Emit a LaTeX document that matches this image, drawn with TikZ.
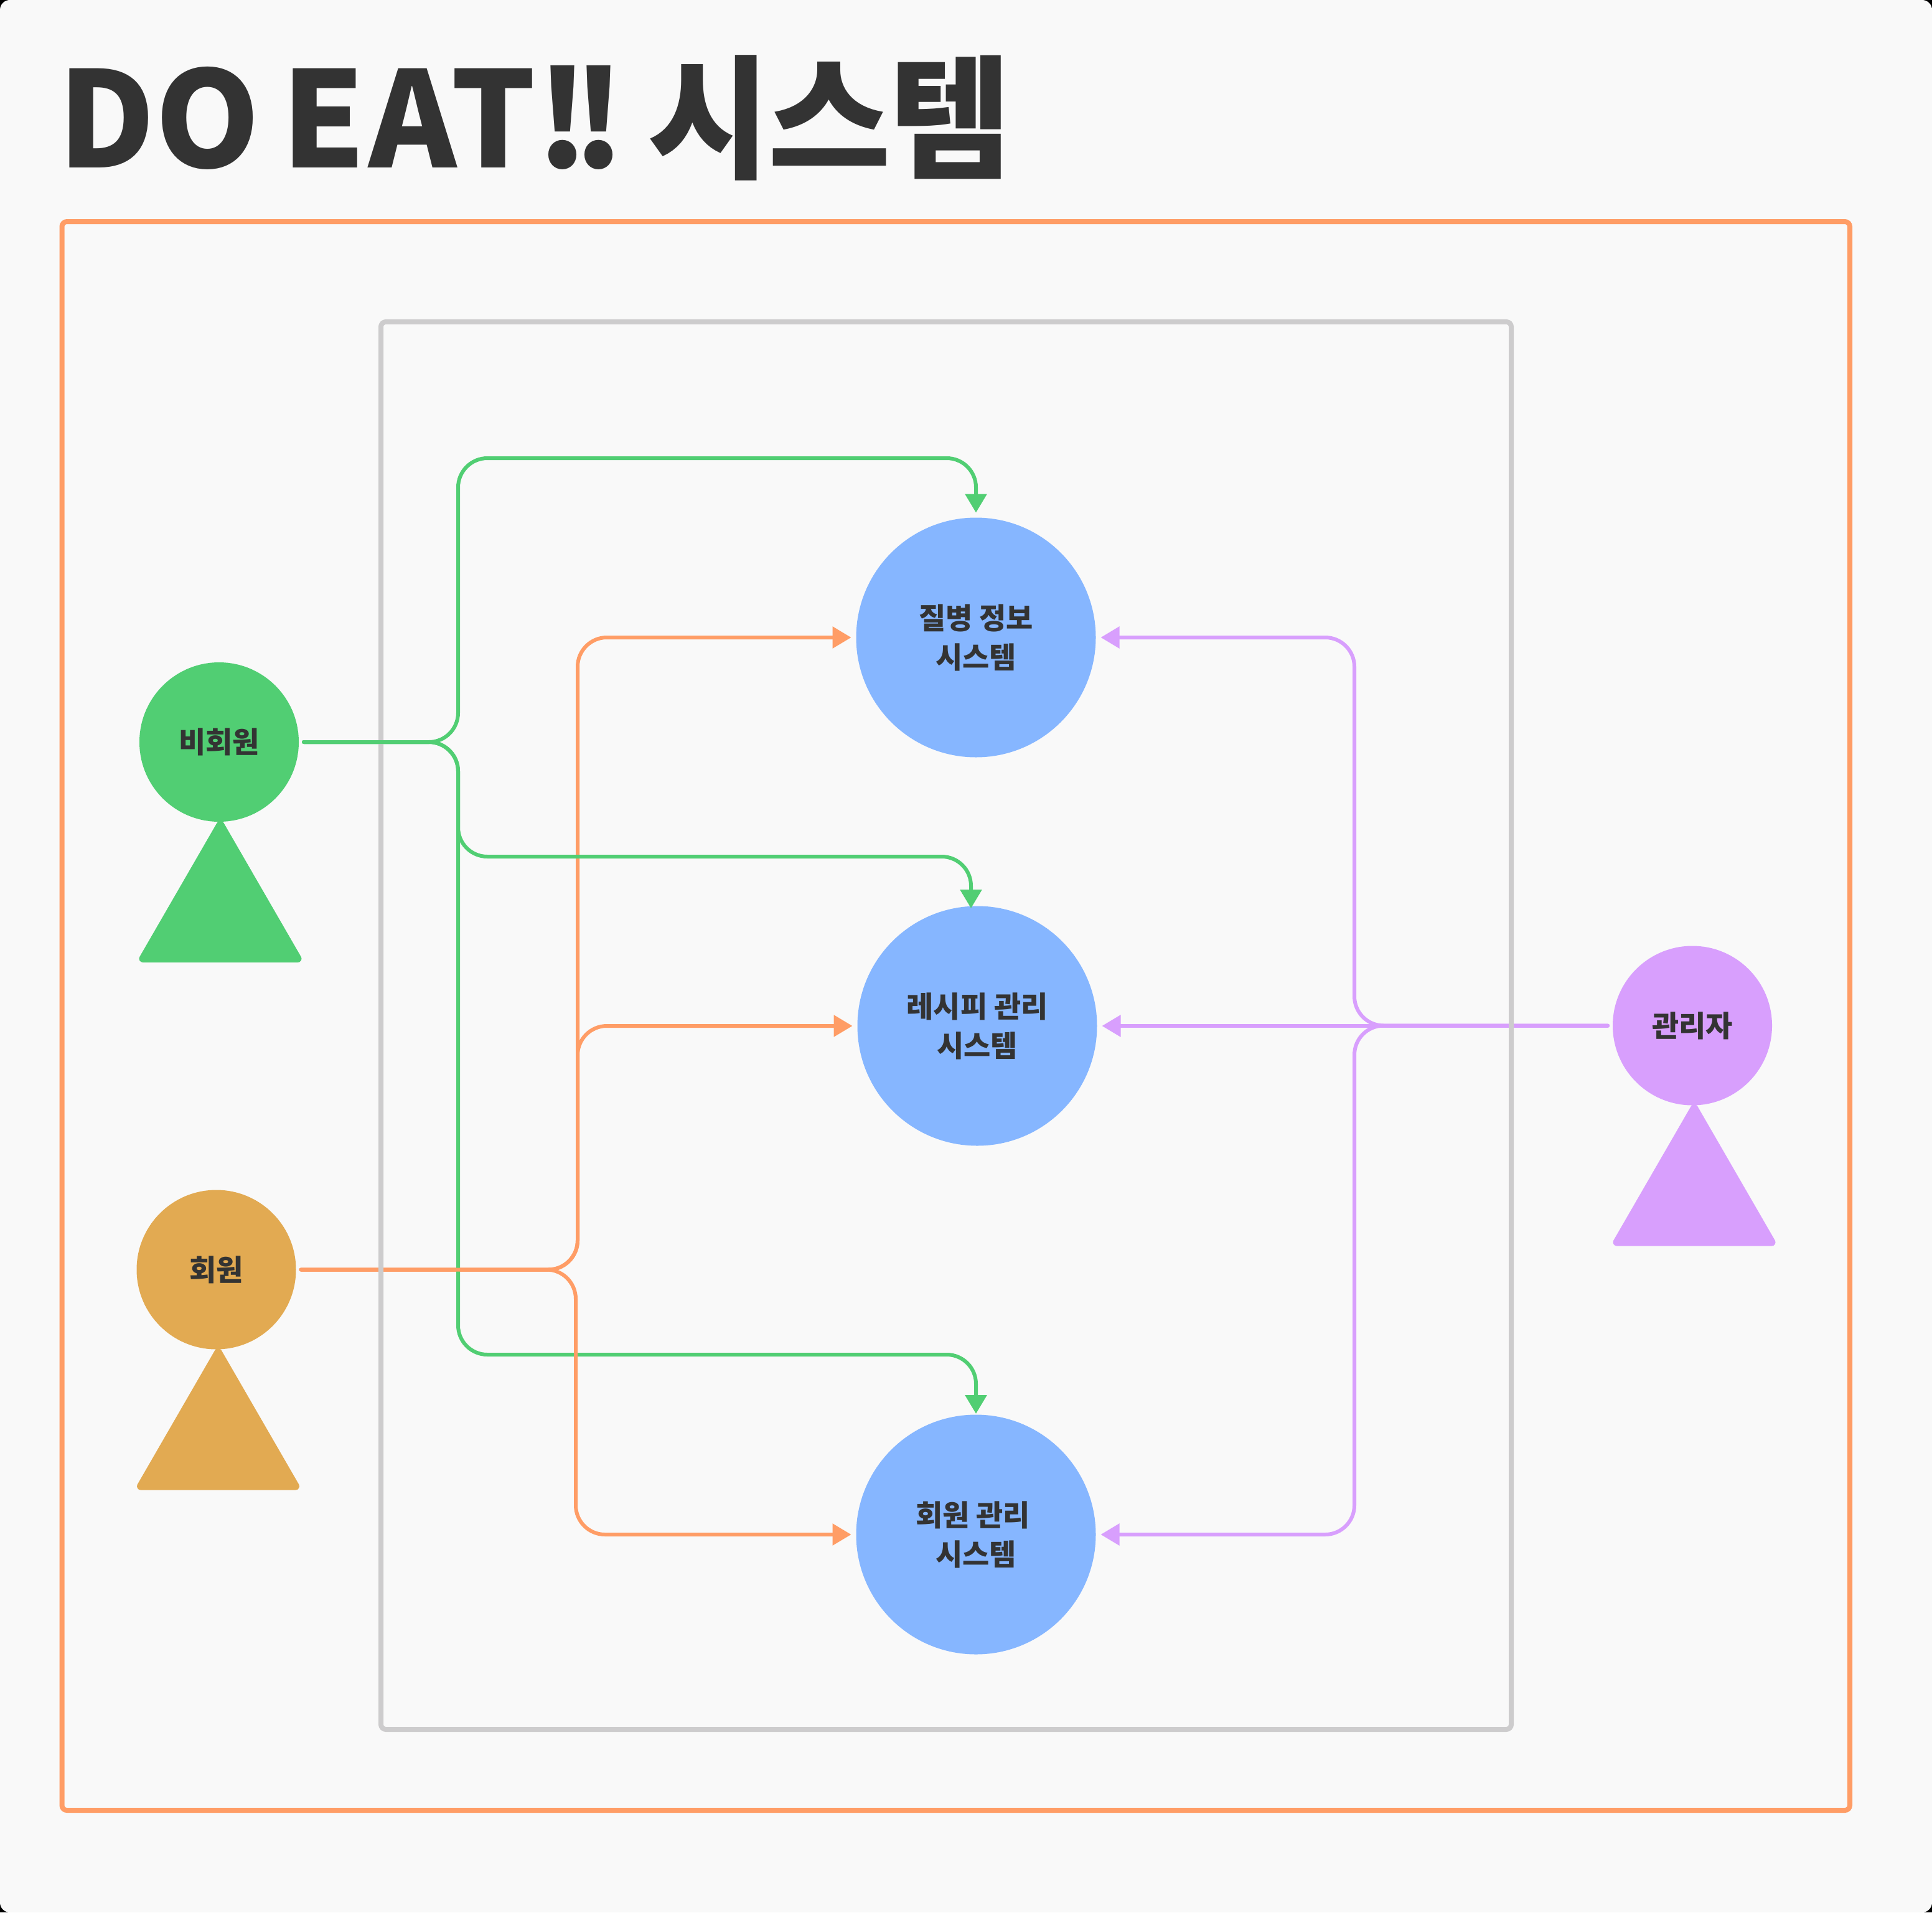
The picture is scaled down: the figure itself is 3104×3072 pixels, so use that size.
\documentclass[tikz,border=0pt]{standalone}
\usepackage{fontspec}
\newfontfamily\krfont{Noto Sans CJK KR}
\usetikzlibrary{arrows.meta, positioning}
\definecolor{pagebg}{HTML}{F9F9F9}
\definecolor{inktext}{HTML}{333333}
\definecolor{linegreen}{HTML}{51CE73}
\definecolor{lineorange}{HTML}{FF9D66}
\definecolor{linepurple}{HTML}{D89FFD}
\definecolor{sysblue}{HTML}{86B6FF}
\definecolor{actorgold}{HTML}{E2AA52}
\definecolor{framegray}{HTML}{CDCCCD}

\begin{document}
\begin{tikzpicture}[
                        x=1pt, y=-1pt,
                        every node/.style={text=inktext, align=center, font=\krfont\bfseries\fontsize{47}{63}\selectfont},
                        head/.style={circle, minimum size=256pt, inner sep=0pt, outer sep=8pt, fill=#1},
                        system/.style={circle, minimum size=385pt, inner sep=0pt, outer sep=8pt, fill=sysblue},
                        torso/.style={fill=#1, draw=#1, line width=12pt, line join=round},
                        frame/.style={draw=#1, line width=8pt, rounded corners=8pt},
                        link/.style={draw=#1, line width=6pt, line cap=round, rounded corners=47pt, -{Triangle[length=30pt,width=34pt]}}
                        ]
                        \useasboundingbox (0,0) rectangle (3104,3072);
                        \fill[black] (0,0) rectangle (3104,3072);
                        \fill[pagebg, rounded corners=16pt] (0,0) rectangle (3104,3072);

                        \node[anchor=base west, font=\krfont\bfseries\fontsize{214}{214}\selectfont] (title) at (90,269)
                          {DO\kern-14pt\ E\kern5pt A\kern-9pt T!\kern-27pt !\kern-13pt\ 시\kern-3pt 스\kern-3pt 템};

                        % actors
                        \draw[torso=linegreen] (354,1324.5) -- (478.5,1540) -- (229.5,1540) -- cycle;
                        \draw[torso=actorgold] (350.5,2172) -- (475,2387.5) -- (226,2387.5) -- cycle;
                        \draw[torso=linepurple] (2722,1780) -- (2846.5,1995.5) -- (2597.5,1995.5) -- cycle;
                        \node[head=linegreen] (guest) at (352,1192) {비회원};
                        \node[head=actorgold] (member) at (347.5,2039.5) {회원};
                        \node[head=linepurple] (admin) at (2719,1647.5) {관리자};

                        % systems
                        \node[system] (disease) at (1568,1024) {질병 정보\\시스템};
                        \node[system] (recipe) at (1570,1648) {레시피 관리\\시스템};
                        \node[system] (account) at (1568,2465) {회원 관리\kern10pt\\시스템};

                        \coordinate (recipetop) at (1560,1459);
                        \coordinate (accounttop) at (1568,2271);

                        % admin lines
                        \draw[link=linepurple] (admin.west) -- (2176,1647.5) -- (2176,1024) -- (disease.east);
                        \draw[link=linepurple] (admin.west) -- (2176,1647.5) -- (2176,2465) -- (account.east);
                        \draw[link=linepurple, rounded corners=0pt] (admin.west) -- (2177,1647.5) -- (2177,1648) -- (recipe.east);

                        % member lines to first two systems
                        \draw[link=lineorange] (member.east) -- (928,2039.5) -- (928,1024) -- (disease.west);
                        \draw[link=lineorange] (member.east) -- (928,2039.5) -- (928,1648) -- (recipe.west);

                        % guest lines
                        \draw[link=linegreen] (guest.east) -- (736,1192) -- (736,1376) -- (1560,1376) -- (recipetop);
                        \draw[link=linegreen] (guest.east) -- (736,1192) -- (736,2176) -- (1568,2176) -- (accounttop);

                        \draw[link=lineorange] (member.east) -- (925,2039.5) -- (925,2465) -- (account.west);

                        \draw[frame=framegray] (612,517) rectangle (2428,2778);
                        \draw[frame=lineorange] (99.5,356) rectangle (2972,2908);

                        \draw[link=linegreen] (guest.east) -- (736,1192) -- (736,736) -- (1568,736) -- (disease.north);
                      \end{tikzpicture}
\end{document}
